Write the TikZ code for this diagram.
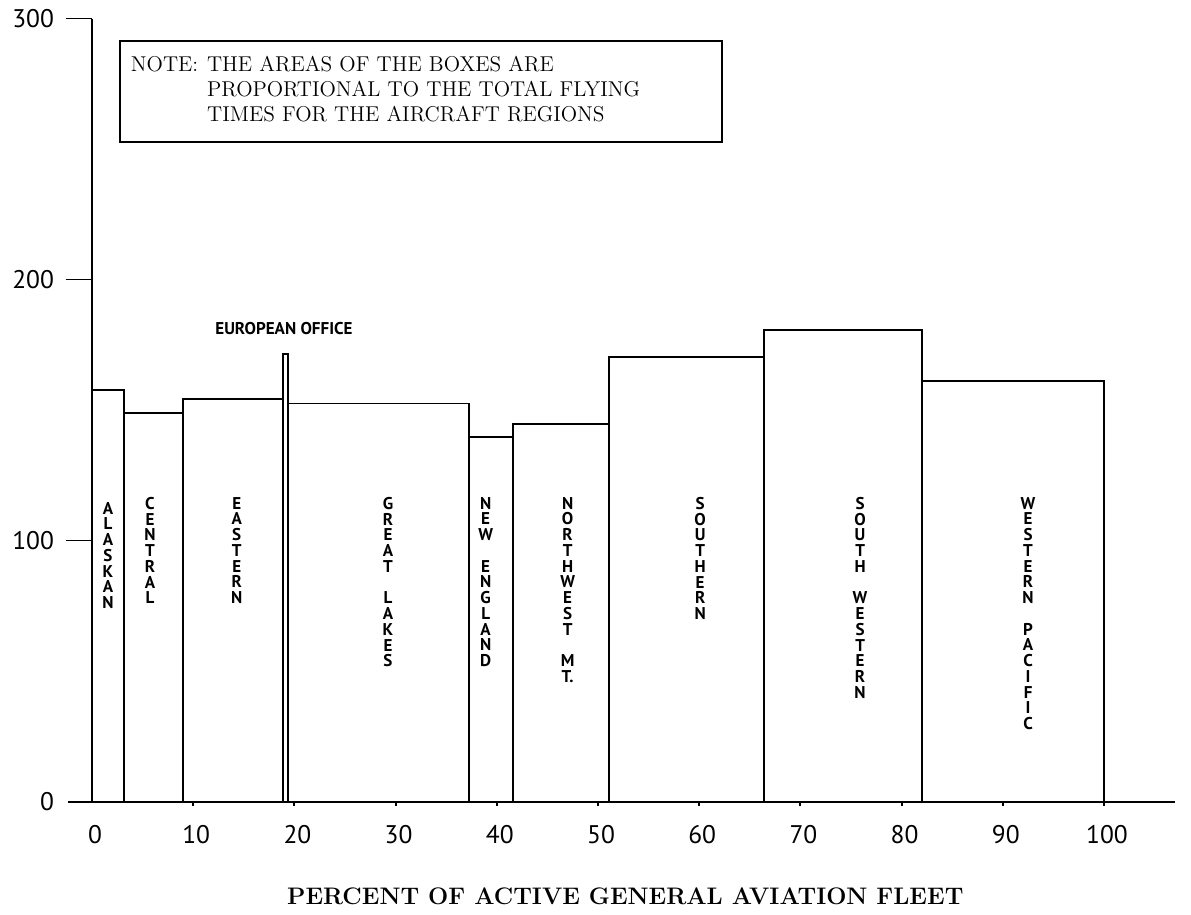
\documentclass[tikz,border=0pt]{standalone}
\usepackage{fontspec}
\usepackage{tikz}
\newfontfamily\ptsans{PT Sans}
\usetikzlibrary{positioning}

\begin{document}
\begin{tikzpicture}[
    x=0.2024cm, y=0.0522cm, line width=1.1pt,
    region/.style={font=\ptsans\fontsize{9.7}{8.96}\selectfont\bfseries,
                   align=center, inner sep=0pt, anchor=north},
    ticklab/.style={font=\ptsans\fontsize{14.5}{16}\selectfont, inner sep=0pt},
    notebox/.style={draw, anchor=north west, inner xsep=0.22cm, inner ysep=0pt,
                    text width=11.6cm, minimum height=2.02cm,
                    font=\fontsize{12.2}{14.2}\selectfont}
]
    \useasboundingbox (-9.09,-43.1) rectangle (108.6,307.1);

    % axes
    \draw (-2.4,0) -- (107,0);
    \draw (0,0) -- (0,300);
    \foreach \v in {100,200,300}
        \draw (-2.6,\v) -- (0,\v);
    \foreach \t in {10,20,...,100}
        \draw (\t,0) -- (\t,-1.6);
    \foreach \v in {0,100,200,300}
        \node[ticklab, anchor=east] (yl\v) at (-3.66,\v) {\v};
    \foreach \t in {0,10,...,100}
        \node[ticklab] (xl\t) at (\t+0.3,-12.8) {\t};

    % region boxes: left/right/height
    \foreach \l/\r/\h in {0/3.16/157.5, 3.16/9.0/148.7, 9.0/18.9/154.4,
                          18.9/19.4/171.6, 19.4/37.25/152.5, 37.25/41.6/139.5,
                          41.6/51.1/144.8, 51.1/66.4/170.3, 66.4/82.0/180.6,
                          82.0/100/161.1}
        \draw (\l,0) rectangle (\r,\h);

    \coordinate (eurotop) at (18.97,171.6);
    \node[region, anchor=south, above=0.36cm of eurotop] (euro) {EUROPEAN OFFICE};

    \node[region] (alaskan)    at (1.58,115.1) {A\\L\\A\\S\\K\\A\\N};
    \node[region] (central)    at (5.73,117)   {C\\E\\N\\T\\R\\A\\L};
    \node[region] (eastern)    at (14.3,117)   {E\\A\\S\\T\\E\\R\\N};
    \node[region] (greatlakes) at (29.25,117)  {G\\R\\E\\A\\T\\~\\L\\A\\K\\E\\S};
    \node[region] (newengland) at (38.9,117)   {N\\E\\W\\~\\E\\N\\G\\L\\A\\N\\D};
    \node[region] (northwest)  at (47.0,117)   {N\\O\\R\\T\\H\\W\\E\\S\\T\\~\\M\\T.};
    \node[region] (southern)   at (60.1,117)   {S\\O\\U\\T\\H\\E\\R\\N};
    \node[region] (southwest)  at (75.9,117)   {S\\O\\U\\T\\H\\~\\W\\E\\S\\T\\E\\R\\N};
    \node[region] (westpac)    at (92.5,117)   {W\\E\\S\\T\\E\\R\\N\\~\\P\\A\\C\\I\\F\\I\\C};

    % note and axis title
    \node[notebox] (note) at (2.67,291.8) {%
        \begin{tabular}{@{}l@{\hspace{5pt}}l@{}}
        NOTE: & THE AREAS OF THE BOXES ARE\\
              & PROPORTIONAL TO THE TOTAL FLYING\\
              & TIMES FOR THE AIRCRAFT REGIONS
        \end{tabular}};
    \node[anchor=north, inner sep=0pt, font=\fontsize{13.6}{15}\selectfont\bfseries]
        (title) at (52.7,-32.8) {PERCENT OF ACTIVE GENERAL AVIATION FLEET};
\end{tikzpicture}
\end{document}
